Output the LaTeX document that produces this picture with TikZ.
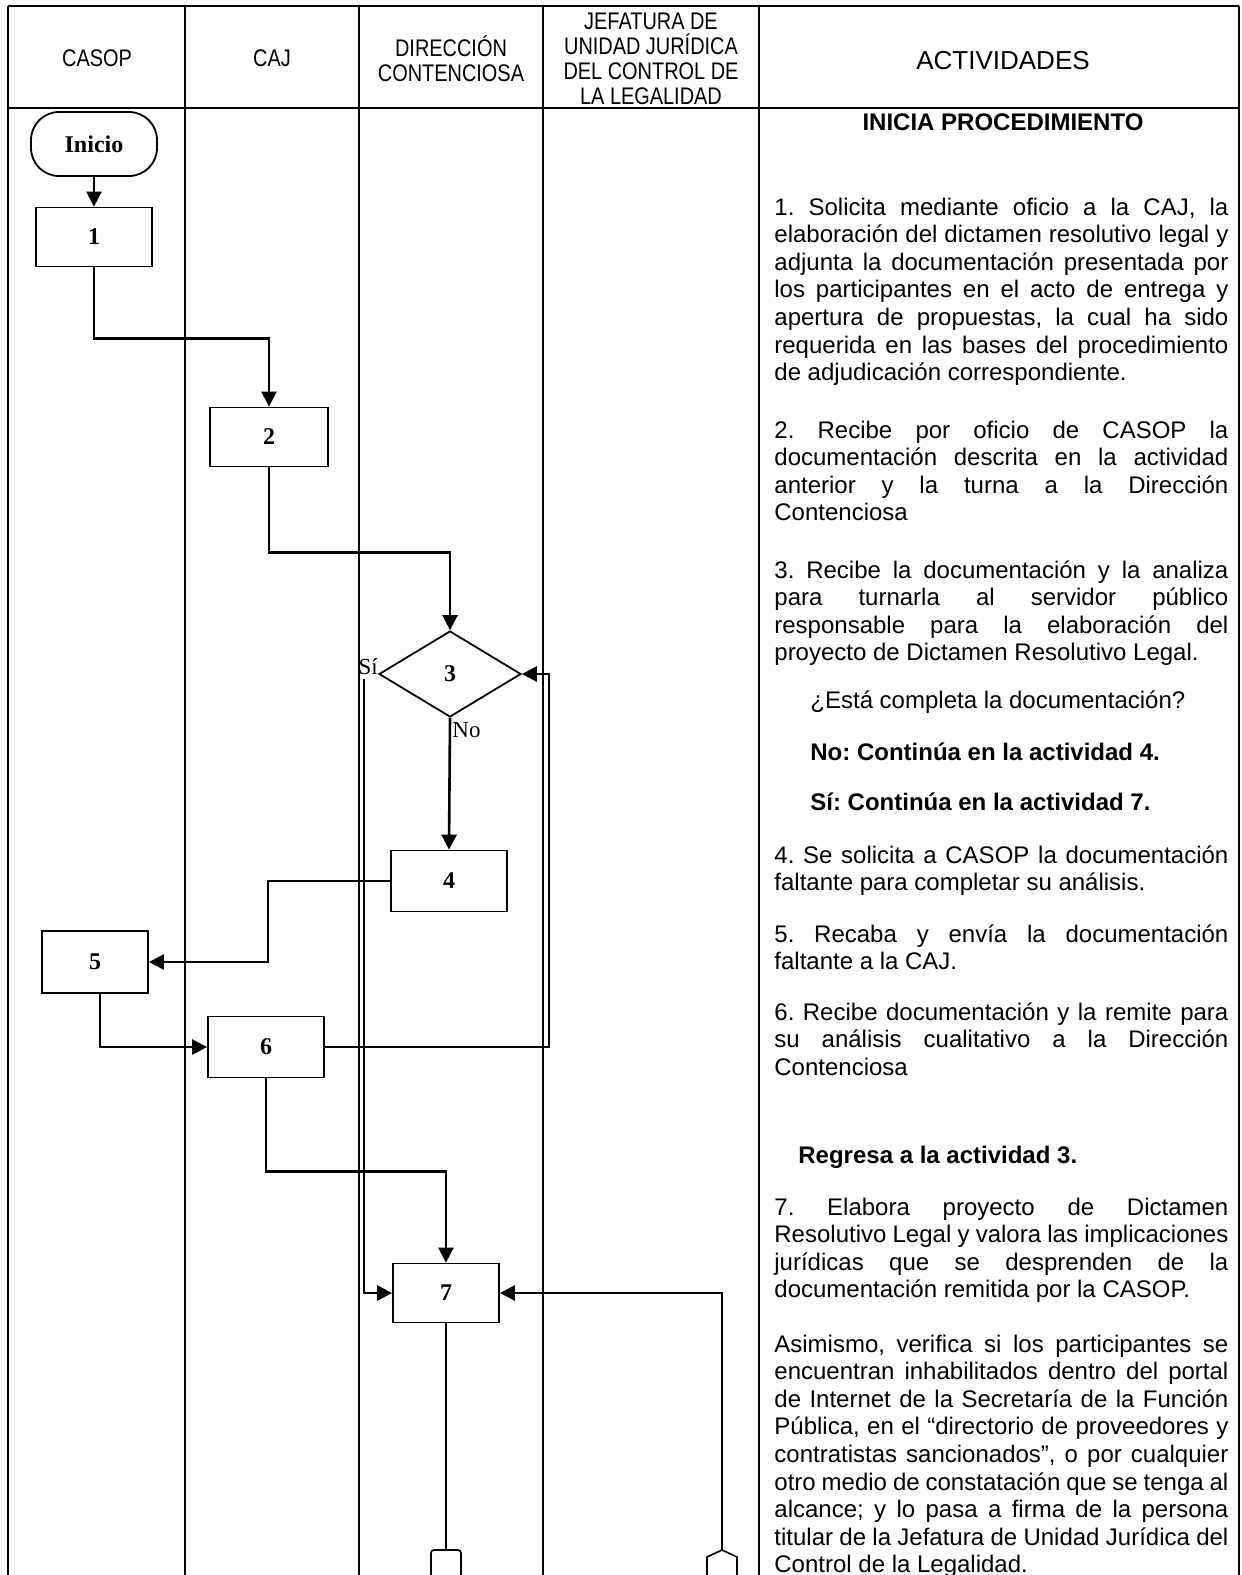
\documentclass[tikz,border=0pt]{standalone}
\usepackage{fontspec}
\setmainfont{Liberation Sans}
\newfontfamily\boxfont{Liberation Serif}
\newfontfamily\headfont[FakeStretch=0.83]{Liberation Sans}
\usetikzlibrary{shapes.geometric,arrows.meta}
\frenchspacing
\tikzset{
	box/.style 2 args={draw,line width=0.9pt,minimum width=#1,minimum height=#2,inner sep=0pt,font=\boxfont\bfseries\fontsize{12}{14}\selectfont},
	term/.style={box={63pt}{32pt},rounded corners=14pt},
	dec/.style={draw,shape=diamond,line width=0.9pt,minimum width=71pt,minimum height=43pt,inner sep=0pt,font=\boxfont\bfseries\fontsize{12}{14}\selectfont},
	flow/.style={line width=1.3pt,-{Triangle[length=7.5pt,width=7.5pt]}},
	conn/.style={line width=1.3pt},
	lane/.style={line width=0.8pt},
	head/.style={align=center,inner sep=0pt,font=\headfont\fontsize{12}{12.5}\selectfont},
	lbl/.style={inner sep=0pt,font=\boxfont\fontsize{11.5}{13}\selectfont},
	act/.style={anchor=base west,inner sep=0pt,text width=227pt,align=justify,font=\fontsize{12}{13.8}\selectfont,execute at begin node={\tolerance=10000\hyphenpenalty=10000}},
	actline/.style={anchor=base west,inner sep=0pt,font=\fontsize{12}{13.8}\selectfont}
}
\begin{document}
\begin{tikzpicture}[x=0.5pt,y=-0.5pt]
	\useasboundingbox (0,0) rectangle (1242,1575);
	\draw[lane] (8,6) -- (1239,6) (8,108) -- (1239,108);
	\foreach \x in {8,185,359,543,759,1239} \draw[lane] (\x,6) -- (\x,1580);

	\node[head] (hcasop) at (97,58) {CASOP};
	\node[head] (hcaj) at (272,58) {CAJ};
	\node[head] (hdir) at (451,59) {DIRECCIÓN\\CONTENCIOSA};
	\node[head] (hjef) at (651,59) {JEFATURA DE\\UNIDAD JURÍDICA\\DEL CONTROL DE\\LA LEGALIDAD};
	\node[inner sep=0pt,font=\fontsize{13}{15}\selectfont] (hact) at (1003,61) {ACTIVIDADES};

	\node[term] (ini) at (94,144) {Inicio};
	\node[box={58pt}{29.5pt}] (b1) at (94,237) {1};
	\node[box={59pt}{29.5pt}] (b2) at (269,437) {2};
	\node[dec] (d3) at (450,674) {3};
	\node[box={58pt}{30.5pt}] (b4) at (449,881) {4};
	\node[box={53pt}{31pt}] (b5) at (95,962) {5};
	\node[box={58pt}{30.5pt}] (b6) at (266,1047) {6};
	\node[box={53pt}{29.5pt}] (b7) at (446,1293) {7};
	\coordinate (outc) at (446,1550);
	\coordinate (inc) at (722,1550);

	\node[lbl,anchor=base east] (lsi) at (d3.west) {Sí};
	\node[lbl,anchor=base west] (lno) at ([xshift=1pt,yshift=-10pt]d3.south) {No};

	\draw[flow] (ini) -- (b1);
	\draw[flow] (b1.south) -- ++(0,71) -| (b2.north);
	\draw[flow] (b2.south) -- ++(0,85) -| (d3.north);
	\draw[flow] (d3.south) -- (b4.north);
	\draw[flow] (b4.west) -- ++(-122,0) |- (b5.east);
	\draw[flow] ([xshift=2.5pt]b5.south) |- (b6.west);
	\draw[flow] (b6.east) -- ++(224,0) |- (d3.east);
	\draw[flow] (b6.south) -- ++(0,93) -| (b7.north);
	\draw[flow] ([xshift=-7pt,yshift=-2.5pt]d3.west) |- (b7.west);
	\draw[flow] (inc) |- (b7.east);
	\draw[conn] (b7.south) -- (outc);
	\draw[lane,rounded corners=1.5pt] (outc) ++(-15,30) -- ++(0,-30) -- ++(30,0) -- ++(0,30);
	\draw[lane] (inc) ++(-15,30) -- ++(0,-23) -- (inc) -- ++(15,7) -- ++(0,23);

	\node[actline,anchor=base] (aini) at (1003,130) {\bfseries INICIA PROCEDIMIENTO};
	\node[act] (a1) at (774,215) {1. Solicita mediante oficio a la CAJ, la\linebreak elaboración del dictamen resolutivo legal y\linebreak adjunta la documentación presentada por\linebreak los participantes en el acto de entrega y\linebreak apertura de propuestas, la cual ha sido\linebreak requerida en las bases del procedimiento\linebreak de adjudicación correspondiente.};
	\node[act] (a2) at (774,438) {2. Recibe por oficio de CASOP la\linebreak documentación descrita en la actividad\linebreak anterior y la turna a la Dirección\linebreak Contenciosa};
	\node[act] (a3) at (774,578) {3. Recibe la documentación y la analiza\linebreak para turnarla al servidor público\linebreak responsable para la elaboración del\linebreak proyecto de Dictamen Resolutivo Legal.};
	\node[actline] (aq) at (810,708) {¿Está completa la documentación?};
	\node[actline] (ano) at (810,760) {\bfseries No: Continúa en la actividad 4.};
	\node[actline] (asi) at (810,810) {\bfseries Sí: Continúa en la actividad 7.};
	\node[act] (a4) at (774,863) {4. Se solicita a CASOP la documentación\linebreak faltante para completar su análisis.};
	\node[act] (a5) at (774,942) {5. Recaba y envía la documentación\linebreak faltante a la CAJ.};
	\node[act] (a6) at (774,1020) {6. Recibe documentación y la remite para\linebreak su análisis cualitativo a la Dirección\linebreak Contenciosa};
	\node[actline] (areg) at (798,1163) {\bfseries Regresa a la actividad 3.};
	\node[act] (a7) at (774,1215) {7. Elabora proyecto de Dictamen\linebreak Resolutivo Legal y valora las implicaciones\linebreak jurídicas que se desprenden de la\linebreak documentación remitida por la CASOP.};
	\node[act] (a7b) at (774,1352) {Asimismo, verifica si los participantes se\linebreak encuentran inhabilitados dentro del portal\linebreak de Internet de la Secretaría de la Función\linebreak Pública, en el “directorio de proveedores y\linebreak contratistas sancionados”, o por cualquier\linebreak otro medio de constatación que se tenga al\linebreak alcance; y lo pasa a firma de la persona\linebreak titular de la Jefatura de Unidad Jurídica del\linebreak Control de la Legalidad.};
\end{tikzpicture}
\end{document}
